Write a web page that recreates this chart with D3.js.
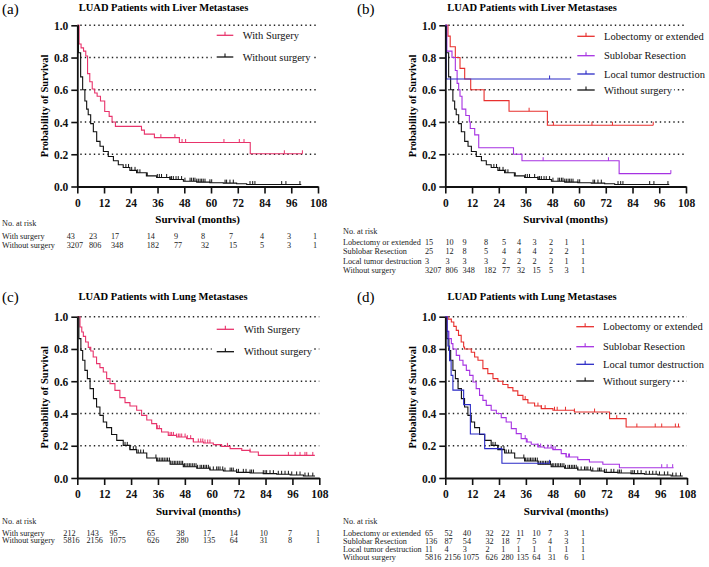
<!DOCTYPE html>
<html><head><meta charset="utf-8">
<script src="https://cdn.jsdelivr.net/npm/d3@7"></script>
<style>body{margin:0;background:#fff;} svg{display:block;}</style>
</head><body><svg id="chart" width="709" height="567"></svg>
<script>
// ---------------- DATA ----------------
const monthTicks = [0, 12, 24, 36, 48, 60, 72, 84, 96, 108];
const survTicks = [0, 0.2, 0.4, 0.6, 0.8, 1.0];
const gridValues = [0.2, 0.4, 0.6, 0.8, 1.0];

// Liver metastases: Kaplan-Meier steps [month, survival]
const liverWithSurgery = [[0,1],[0.8,0.884],[1.7,0.86],[2.8,0.84],[3.8,0.81],[4.6,0.70],[5.6,0.65],[6.7,0.605],[7.8,0.58],[8.9,0.56],[10.4,0.53],[12.3,0.465],[14.3,0.435],[15.6,0.40],[17.1,0.373],[28.8,0.35],[30.1,0.325],[34.6,0.303],[45.8,0.273],[77.6,0.203],[101,0.203]];
const liverWithSurgeryCensor = [37.5,43.8,47,48.6,65.8,72.7,74.8,92.9,101];

const liverWithoutSurgery = [[0,1],[0.5,0.83],[1.5,0.68],[2.4,0.60],[3.4,0.53],[4.2,0.48],[4.9,0.445],[6.0,0.39],[7.2,0.34],[8.7,0.28],[10.2,0.25],[11.7,0.217],[13.9,0.186],[16.2,0.16],[18.4,0.135],[20.6,0.118],[23.6,0.10],[26.6,0.085],[31,0.066],[35.6,0.056],[41.6,0.043],[47.6,0.033],[53.6,0.027],[59.5,0.023],[65.5,0.021],[71.5,0.017],[76,0.012],[100.5,0.012]];
const liverWithoutSurgeryCensor = [21.8,23,24.4,25.9,27.1,28.1,31.4,35.9,36.8,37.8,40.1,41.6,42.3,43.1,44.3,45.3,46.8,48.3,50.6,51.3,52.1,52.8,53.6,54.3,55.1,55.8,56.5,57.3,59.5,60.3,66.3,67,68.5,70,77.5,78.7,79.7,91.7,93.6,99.9];

const liverLobectomy = [[0,1],[1.2,0.933],[2.2,0.867],[4.5,0.80],[6.6,0.733],[8.7,0.667],[11.4,0.60],[17.4,0.533],[28.6,0.467],[45.8,0.38],[93.3,0.38]];
const liverLobectomyCensor = [37.6,48.5,65.8,75,93.3];
const liverSublobar = [[0,1],[0.7,0.84],[3.0,0.80],[4.5,0.72],[5.3,0.64],[6.0,0.60],[6.6,0.56],[7.5,0.48],[9.2,0.44],[10.8,0.40],[11.2,0.36],[13.2,0.32],[15.0,0.24],[30.6,0.20],[34.4,0.16],[78.0,0.08],[101.2,0.08]];
const liverSublobarCensor = [43.9,73.2,101.2];
const liverLocal = [[0,1],[0.4,0.667],[56.2,0.667]];
const liverLocalCensor = [46.8];

// Lung metastases
const lungWithSurgery = [[0,1],[1.2,0.936],[2.0,0.905],[2.7,0.878],[3.7,0.843],[4.9,0.81],[6.0,0.787],[7.1,0.75],[8.6,0.709],[10.1,0.684],[11.6,0.657],[13.1,0.616],[14.6,0.585],[16.8,0.543],[19.0,0.498],[21.3,0.467],[23.5,0.446],[26.5,0.42],[28.7,0.388],[31.0,0.36],[33.2,0.337],[35.4,0.306],[37.6,0.285],[40.6,0.264],[44.3,0.254],[48.8,0.244],[51.8,0.223],[56.3,0.217],[60.7,0.207],[64.4,0.196],[68.2,0.182],[73.4,0.171],[77.1,0.161],[80.8,0.14],[106,0.14]];
const lungWithSurgeryCensor = [35.7,36.6,41.4,42.1,42.9,44.3,45.1,45.8,46.6,48.1,49.1,50.6,51.8,54,55.1,56,57,58.2,59.2,67,77.1,94.2,97.2,99.4,101.6,102.4,105.1];

const lungWithoutSurgery = [[0,1],[0.7,0.864],[1.6,0.79],[2.4,0.73],[3.4,0.667],[4.5,0.616],[5.7,0.554],[7.2,0.492],[8.6,0.44],[10.1,0.388],[11.6,0.347],[13.1,0.312],[15.3,0.27],[17.6,0.233],[20.5,0.202],[23.5,0.176],[26.5,0.155],[31,0.124],[35.4,0.105],[41.4,0.085],[47.3,0.07],[53.3,0.06],[59.2,0.05],[65.2,0.043],[71.1,0.035],[77.1,0.031],[83,0.027],[89,0.023],[95,0.019],[100.9,0.012],[106.1,0.012]];
const lungWithoutSurgeryCensor = [21.3,22.3,23.5,25,26.2,27.2,28.3,29.5,35.1,35.9,36.6,37.4,38.1,38.8,39.6,40.3,41.1,41.8,42.6,43.3,44,44.8,45.5,46.3,47,47.8,48.5,49.3,50,50.7,51.5,52.2,53,53.7,54.8,55.5,56.3,57,57.7,58.5,59.2,60.7,62.2,62.9,63.7,64.9,65.9,68.2,68.9,69.6,71.1,71.9,74.1,75.3,77.1,77.8,78.6,83,83.8,84.5,86,87.5,89.7,91.2,92.7,94.2,95.7,97.9,99.4,101.6,103.1,105.1];

const lungLobectomy = [[0,1],[1.2,0.985],[2.7,0.967],[3.8,0.94],[4.9,0.915],[5.9,0.884],[7.1,0.843],[8.2,0.812],[8.6,0.80],[11.6,0.78],[13.1,0.75],[14.6,0.73],[16.8,0.678],[19.0,0.647],[21.3,0.616],[23.5,0.60],[25.7,0.58],[28.0,0.56],[30.2,0.54],[32.4,0.512],[34.7,0.486],[36.9,0.465],[39.9,0.446],[42.9,0.43],[48.1,0.42],[57.7,0.409],[73.4,0.368],[80.8,0.316],[105,0.316]];
const lungLobectomyCensor = [35.7,41.4,42.9,44.6,48.8,50,53.7,57.7,66.7,76.6,85.6,93.8,96.7,102.8,104.2];
const lungSublobar = [[0,1],[0.7,0.91],[1.6,0.864],[2.7,0.833],[3.4,0.80],[4.9,0.76],[6.4,0.73],[7.9,0.70],[9.4,0.667],[10.9,0.636],[12.4,0.595],[13.8,0.554],[15.3,0.512],[16.8,0.481],[18.3,0.45],[20.5,0.42],[22.8,0.40],[25.0,0.374],[27.2,0.347],[29.5,0.306],[31.7,0.275],[33.9,0.244],[36.2,0.223],[38.4,0.209],[41.4,0.192],[44.3,0.186],[48.1,0.176],[51.8,0.151],[54.0,0.13],[59.2,0.114],[64.4,0.099],[70.4,0.085],[77.8,0.064],[102,0.064]];
const lungSublobarCensor = [35.7,36.6,41.4,42.6,45.8,47.3,48.1,49.1,54,55.1,55.5,96.7,99.1,101.6];
const lungLocal = [[0,1],[0.8,0.909],[1.2,0.818],[1.9,0.727],[2.6,0.636],[3.4,0.545],[8.2,0.455],[11.2,0.273],[17.6,0.182],[25.3,0.091],[46.6,0.091]];
const lungLocalCensor = [46.6];

// Numbers at risk
const riskLiverWith = [43,23,17,14,9,8,7,4,3,1];
const riskLiverWithout = [3207,806,348,182,77,32,15,5,3,1];
const riskLiverLobectomy = [15,10,9,8,5,4,3,2,1,1];
const riskLiverSublobar = [25,12,8,5,4,4,4,2,2,1];
const riskLiverLocal = [3,3,3,3,2,2,2,2,1,1];
const riskLungWith = [212,143,95,65,38,17,14,10,7,1];
const riskLungWithout = [5816,2156,1075,626,280,135,64,31,8,1];
const riskLungLobectomy = [65,52,40,32,22,11,10,7,3,1];
const riskLungSublobar = [136,87,54,32,18,7,5,4,3,1];
const riskLungLocal = [11,4,3,2,1,1,1,1,1,1];
const riskLungWithout4 = [5816,2156,1075,626,280,135,64,31,6,1];

// ---------------- STYLE / LAYOUT ----------------
const SERIF = "'Liberation Serif','Times New Roman',Times,serif";
const C = {pink:'#e8336b', red:'#e8302e', purple:'#a632e2', blue:'#2a2ac6', black:'#111'};

const panels = [
  {label:'(a)', title:'LUAD Patients with Liver Metastases', x0:77.3, x1:318, yT:25.3, yB:186.5,
   titleX:163.5, titleY:10.8, labY:13.5, labX:2,
   series:[
     {name:'With Surgery', data:liverWithSurgery, cens:liverWithSurgeryCensor, color:C.pink},
     {name:'Without surgery', data:liverWithoutSurgery, cens:liverWithoutSurgeryCensor, color:C.black}],
   legX:[139.4,156,165.4], legY:[35.3,57],
   table:{headY:226.3, rowY:[238.7,248], labX:2, fs:8.2, cols:[66.7,89,111,146.7,174,201,229,260,287,313],
     rows:[['With surgery',riskLiverWith],['Without surgery',riskLiverWithout]]},
   tickY:207, axTitleY:223},
  {label:'(b)', title:'LUAD Patients with Liver Metastases', x0:445.3, x1:686, yT:25.3, yB:186.5,
   titleX:532, titleY:10.8, labY:13.5, labX:357,
   series:[
     {name:'Without surgery', data:liverWithoutSurgery, cens:liverWithoutSurgeryCensor, color:C.black, legOrder:3},
     {name:'Lobectomy or extended', data:liverLobectomy, cens:liverLobectomyCensor, color:C.red, legOrder:0},
     {name:'Sublobar Resection', data:liverSublobar, cens:liverSublobarCensor, color:C.purple, legOrder:1},
     {name:'Local tumor destruction', data:liverLocal, cens:liverLocalCensor, color:C.blue, legOrder:2}],
   legX:[132,149.4,158.7], legY:[36.3,55.7,74,90],
   table:{headY:233.5, rowY:[245,254,263.5,272.8], labX:343, fs:8.2, cols:[425,445.5,462.5,484,502,517,532.5,549,564.5,581],
     rows:[['Lobectomy or extended',riskLiverLobectomy],['Sublobar Resection',riskLiverSublobar],['Local tumor destruction',riskLiverLocal],['Without surgery',riskLiverWithout]]},
   tickY:207, axTitleY:223},
  {label:'(c)', title:'LUAD Patients with Lung Metastases', x0:77.3, x1:319.3, yT:316.7, yB:478,
   titleX:163, titleY:299.8, labY:301.5, labX:2,
   series:[
     {name:'With Surgery', data:lungWithSurgery, cens:lungWithSurgeryCensor, color:C.pink},
     {name:'Without surgery', data:lungWithoutSurgery, cens:lungWithoutSurgeryCensor, color:C.black}],
   legX:[139.4,156.7,166.7], legY:[329.3,351.7],
   table:{headY:523.5, rowY:[535.5,543.2], labX:2, fs:8.2, cols:[63.3,86.5,109.5,147,176.3,203,229.7,259.7,288,316],
     rows:[['With surgery',riskLungWith],['Without surgery',riskLungWithout]]},
   tickY:498.3, axTitleY:514.7},
  {label:'(d)', title:'LUAD Patients with Lung Metastases', x0:445.3, x1:687, yT:316.7, yB:478,
   titleX:532, titleY:299.8, labY:302, labX:357,
   series:[
     {name:'Without surgery', data:lungWithoutSurgery, cens:lungWithoutSurgeryCensor, color:C.black, legOrder:3},
     {name:'Lobectomy or extended', data:lungLobectomy, cens:lungLobectomyCensor, color:C.red, legOrder:0},
     {name:'Sublobar Resection', data:lungSublobar, cens:lungSublobarCensor, color:C.purple, legOrder:1},
     {name:'Local tumor destruction', data:lungLocal, cens:lungLocalCensor, color:C.blue, legOrder:2}],
   legX:[131,148.7,157.7], legY:[326.7,346.7,364.3,381],
   table:{headY:523.5, rowY:[535.5,543.5,551.5,559.5], labX:343, fs:8.2, cols:[425,444.5,462.8,485.5,501.3,516.5,532.3,548,564.3,581],
     rows:[['Lobectomy or extended',riskLungLobectomy],['Sublobar Resection',riskLungSublobar],['Local tumor destruction',riskLungLocal],['Without surgery',riskLungWithout4]]},
   tickY:498.3, axTitleY:514.7}
];

// ---------------- DRAW ----------------
const svg = d3.select('#chart');
svg.append('rect').attr('width',709).attr('height',567).attr('fill','#fff');

function survAt(data, t){ let s = data[0][1]; for (const [tt, ss] of data) { if (tt <= t) s = ss; } return s; }

panels.forEach(p => {
  const g = svg.append('g');
  const x = d3.scaleLinear().domain([0,108]).range([p.x0, p.x1]);
  const y = d3.scaleLinear().domain([0,1]).range([p.yB, p.yT]);

  // panel label and title
  g.append('text').attr('x',p.labX).attr('y',p.labY).attr('font-family',SERIF).attr('font-size',15).text(p.label);
  g.append('text').attr('x',p.titleX).attr('y',p.titleY).attr('text-anchor','middle').attr('font-family',SERIF)
    .attr('font-weight','bold').attr('font-size',10.5).text(p.title);

  // gridlines
  g.selectAll('line.grid').data(gridValues).enter().append('line')
    .attr('x1',p.x0+3).attr('x2',p.x1).attr('y1',d=>y(d)).attr('y2',d=>y(d))
    .attr('stroke','#222').attr('stroke-width',1.4).attr('stroke-dasharray','1.4,3.1');

  // curves
  const line = d3.line().x(d=>x(d[0])).y(d=>y(d[1])).curve(d3.curveStepAfter);
  p.series.forEach(s => {
    g.append('path').attr('d',line(s.data)).attr('fill','none').attr('stroke',s.color).attr('stroke-width',1.1);
    g.selectAll(null).data(s.cens).enter().append('line')
      .attr('x1',d=>x(d)).attr('x2',d=>x(d)).attr('y1',d=>y(survAt(s.data,d))).attr('y2',d=>y(survAt(s.data,d))-3.5)
      .attr('stroke',s.color).attr('stroke-width',1);
  });

  // axes
  const xAxis = d3.axisBottom(x).tickValues(monthTicks).tickSize(7).tickSizeOuter(0).tickPadding(3);
  const gx = g.append('g').attr('transform',`translate(0,${p.yB})`).call(xAxis);
  const yAxis = d3.axisLeft(y).tickValues(survTicks).tickFormat(d3.format('.1f')).tickSize(6).tickSizeOuter(0).tickPadding(3);
  const gy = g.append('g').attr('transform',`translate(${p.x0},0)`).call(yAxis);
  [gx, gy].forEach(ax => {
    ax.select('.domain').attr('stroke','#111').attr('stroke-width',1.8);
    ax.selectAll('.tick line').attr('stroke','#111').attr('stroke-width',1.6);
    ax.selectAll('.tick text').attr('font-family',SERIF).attr('font-weight','bold').attr('font-size',11.5).attr('fill','#111');
  });
  gx.selectAll('.tick text').attr('y',null).attr('dy',null).attr('transform',`translate(0,${p.tickY - p.yB})`);
  gy.selectAll('.tick text').attr('dy','0.35em');

  // axis titles
  g.append('text').attr('x',(p.x0+p.x1)/2).attr('y',p.axTitleY).attr('text-anchor','middle').attr('font-family',SERIF)
    .attr('font-weight','bold').attr('font-size',11).text('Survival (months)');
  g.append('text').attr('transform',`translate(${p.x0-29.5},${(p.yT+p.yB)/2}) rotate(-90)`).attr('text-anchor','middle')
    .attr('font-family',SERIF).attr('font-weight','bold').attr('font-size',10.5).text('Probability of Survival');

  // legend (each entry has its own white box)
  const legItems = p.series.map((s,i)=>({s, order: s.legOrder===undefined ? i : s.legOrder})).sort((a,b)=>a.order-b.order);
  legItems.forEach((it, i) => {
    const ly = p.legY[i];
    const lg = g.append('g');
    const txt = lg.append('text').attr('x',p.x0+p.legX[2]).attr('y',ly).attr('dy','0.35em').attr('font-family',SERIF)
      .attr('font-size',10.5).attr('fill','#111').text(it.s.name);
    const w = txt.node().getComputedTextLength();
    lg.insert('rect','text').attr('x',p.x0+p.legX[0]-5).attr('y',ly-6.5).attr('width',p.legX[2]-p.legX[0]+5+w+2).attr('height',13).attr('fill','#fff');
    lg.append('line').attr('x1',p.x0+p.legX[0]).attr('x2',p.x0+p.legX[1]).attr('y1',ly).attr('y2',ly)
      .attr('stroke',it.s.color).attr('stroke-width',1.3);
    const mx = p.x0+(p.legX[0]+p.legX[1])/2;
    lg.append('line').attr('x1',mx).attr('x2',mx).attr('y1',ly).attr('y2',ly-3.5).attr('stroke',it.s.color).attr('stroke-width',1.1);
  });

  // number-at-risk table
  const t = p.table;
  g.append('text').attr('x',t.labX).attr('y',t.headY).attr('font-family',SERIF).attr('font-size',t.fs).attr('fill','#222').text('No. at risk');
  t.rows.forEach((r, ri) => {
    g.append('text').attr('x',t.labX).attr('y',t.rowY[ri]).attr('font-family',SERIF).attr('font-size',t.fs).attr('fill','#222').text(r[0]);
    g.selectAll(null).data(r[1]).enter().append('text')
      .attr('x',(d,i)=>t.cols[i]).attr('y',t.rowY[ri]).attr('font-family',SERIF).attr('font-size',t.fs).attr('fill','#222').text(d=>d);
  });
});
</script></body></html>
